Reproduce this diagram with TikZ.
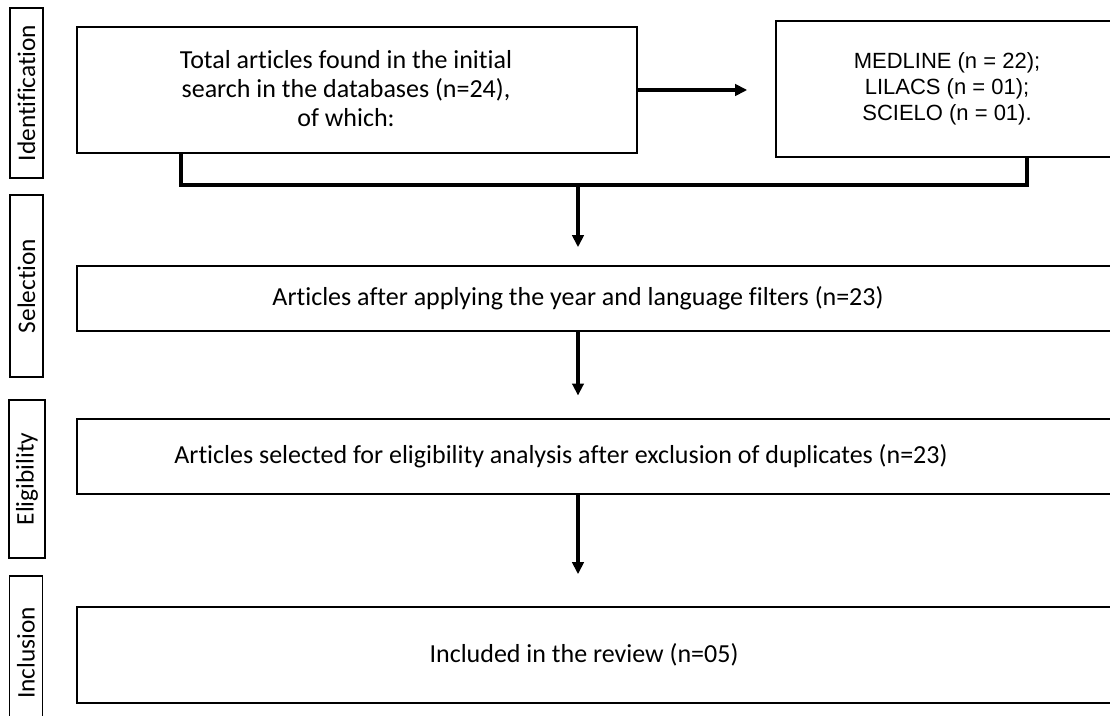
\documentclass[tikz,border=0pt]{standalone}
\usepackage{fontspec}
\setmainfont[Ligatures=NoCommon]{Carlito}
\newfontfamily\dbfont{Liberation Sans}
\usetikzlibrary{arrows.meta}

\begin{document}
\begin{tikzpicture}[x=0.75pt, y=-0.75pt,
    box/.style={draw, line width=1.2pt, inner sep=0pt},
    side/.style={draw, line width=1.2pt, rotate=90, inner sep=0pt, minimum height=24.75pt,
      font=\fontsize{19}{21}\selectfont},
    txt/.style={font=\fontsize{19.5}{21.75}\selectfont, align=center, inner sep=0pt},
    link/.style={line width=2.5pt},
    arr/.style={line width=2.5pt, -{Triangle[length=9pt,width=8.5pt]}}]
  \useasboundingbox (0,0) rectangle (1110,716);
  \clip (0,0) rectangle (1110,716);

  \node[side, minimum width=127.5pt] (idlab) at (26.5,93) {Identification};
  \node[side, minimum width=136.5pt] (sellab) at (26.5,286) {Selection};
  \node[side, minimum width=118.5pt, minimum height=27pt] (ellab) at (27,479) {Eligibility};
  \node[side, minimum width=115.5pt] (inlab) at (26,653) {Inclusion};

  \node[box, minimum width=420pt, minimum height=94.5pt] (tot) at (357,90) {};
  \node[txt] (tottxt) at (346,89) {Total articles found in the initial\\search in the databases (n=24),\\of which:};
  \node[box, minimum width=258pt, minimum height=102pt] (db) at (948,89) {};
  \node[font=\dbfont\fontsize{16.5}{19.5}\selectfont, align=center, inner sep=0pt] (dbtxt) at (947,89)
    {MEDLINE (n = 22);\\LILACS (n = 01);\\SCIELO (n = 01).};

  \node[box, minimum width=789.75pt, minimum height=48.75pt] (sel) at (603.5,298.5) {};
  \node[txt] (seltxt) at (578,298) {Articles after applying the year and language filters (n=23)};
  \node[box, minimum width=789.75pt, minimum height=56.25pt] (elig) at (603.5,456.5) {};
  \node[txt] (eligtxt) at (561,456) {Articles selected for eligibility analysis after exclusion of duplicates (n=23)};
  \node[box, minimum width=789.75pt, minimum height=72pt] (incl) at (603.5,655) {};
  \node[txt] (incltxt) at (584,655) {Included in the review (n=05)};

  \coordinate (brl) at (181,185);
  \coordinate (brr) at (1027,185);
  \coordinate (brm) at (578,185);

  \draw[arr, shorten >=21pt] (tot.east) -- (tot.east -| db.west);
  \draw[link] (brl |- tot.south) -- (brl) -- (brr) -- (brr |- db.south);
  \draw[arr, shorten >=13.5pt] (brm) -- (brm |- sel.north);
  \draw[arr, shorten >=17pt] (sel.south -| brm) -- (elig.north -| brm);
  \draw[arr, shorten >=24pt] (elig.south -| brm) -- (incl.north -| brm);
\end{tikzpicture}
\end{document}
